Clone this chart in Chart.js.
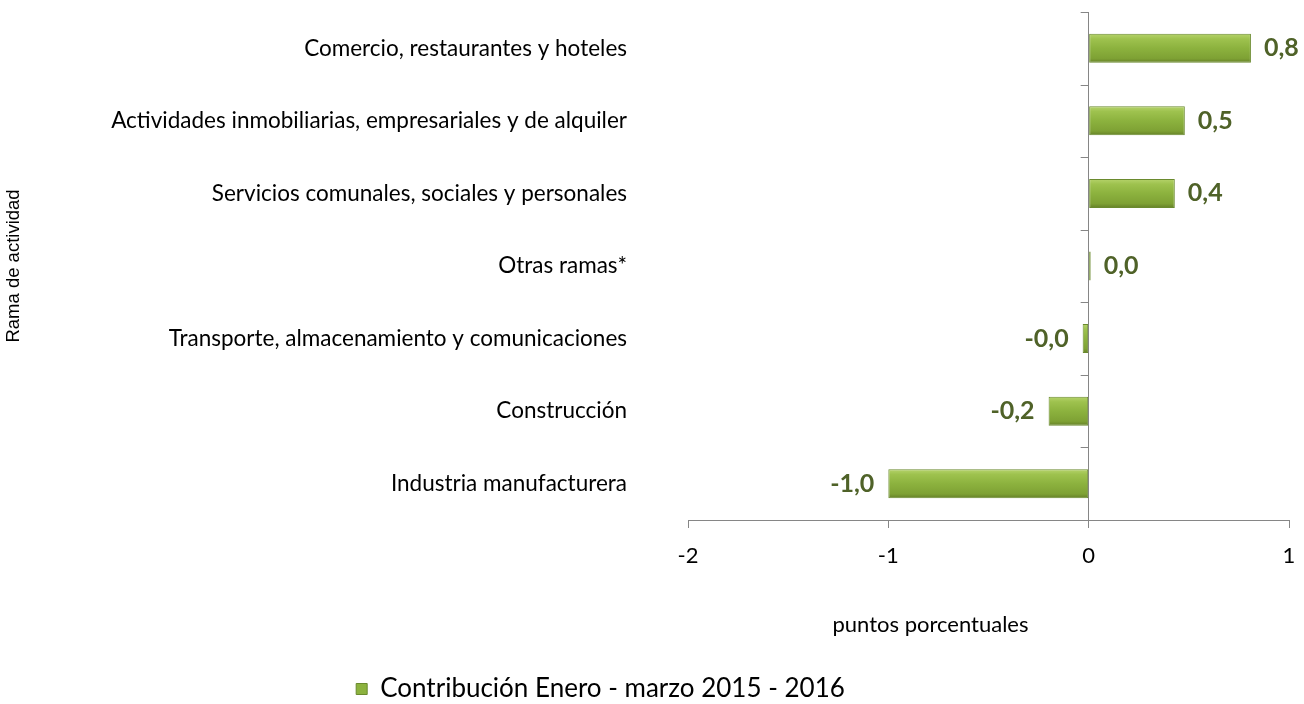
<!DOCTYPE html>
<html>
<head>
<meta charset="utf-8">
<script src="https://cdn.jsdelivr.net/npm/chart.js@4.4.0/dist/chart.umd.min.js"></script>
<style>
    html, body { margin: 0; padding: 0; background: #fff; }
    #wrap { width: 1304px; height: 704px; }
</style>
</head>
<body>
<div id="wrap"><canvas id="chart" width="1304" height="704"></canvas></div>
<script>
// --- DATA ---
const categories = [
    'Comercio, restaurantes y hoteles',
    'Actividades inmobiliarias, empresariales y de alquiler',
    'Servicios comunales, sociales y personales',
    'Otras ramas*',
    'Transporte, almacenamiento y comunicaciones',
    'Construcción',
    'Industria manufacturera'
];
const contribution = [0.81, 0.48, 0.43, 0.01, -0.03, -0.2, -1.0];
const seriesLabel = 'Contribución Enero - marzo 2015 - 2016';
const xTicks = [-2, -1, 0, 1];
const xTitle = 'puntos porcentuales';
const yTitle = 'Rama de actividad';

const AXIS_GREY = '#868686';
const LABEL_GREEN = '#4f6228';
const BAR_PCT = 0.4;

// vertical bevel gradient for each bar
function barFill(ctx) {
    const chart = ctx.chart;
    const y = chart.scales.y;
    if (!y || ctx.dataIndex === undefined) return '#8aae3c';
    const yc = y.getPixelForValue(ctx.dataIndex);
    const h = y.height / categories.length * BAR_PCT;
    const g = chart.ctx.createLinearGradient(0, yc - h / 2, 0, yc + h / 2);
    g.addColorStop(0, '#b6d36c');
    g.addColorStop(0.18, '#9ec24e');
    g.addColorStop(0.5, '#8cb23e');
    g.addColorStop(0.85, '#7ea134');
    g.addColorStop(1, '#647f27');
    return g;
}

// axis line at zero with small ticks between categories
const zeroAxis = {
    id: 'zeroAxis',
    afterDatasetsDraw(chart) {
        const { ctx, scales: { x, y } } = chart;
        const x0 = x.getPixelForValue(0);
        ctx.save();
        ctx.strokeStyle = AXIS_GREY;
        ctx.lineWidth = 1;
        ctx.beginPath();
        for (let i = 0; i <= categories.length; i++) {
            const yy = Math.round(y.top + i * y.height / categories.length) + 0.5;
            ctx.moveTo(x0 - 8, yy);
            ctx.lineTo(x0, yy);
        }
        ctx.stroke();
        ctx.restore();
    }
};

// value labels next to the bars
const valueLabels = {
    id: 'valueLabels',
    afterDatasetsDraw(chart) {
        const { ctx } = chart;
        const meta = chart.getDatasetMeta(0);
        ctx.save();
        ctx.font = 'bold 25px Lato';
        ctx.fillStyle = LABEL_GREEN;
        ctx.textBaseline = 'middle';
        meta.data.forEach((bar, i) => {
            const v = contribution[i];
            const txt = v.toFixed(1).replace('.', ',');
            if (v >= 0) {
                ctx.textAlign = 'left';
                ctx.fillText(txt, bar.x + 13, bar.y);
            } else {
                ctx.textAlign = 'right';
                ctx.fillText(txt, bar.x - 14, bar.y);
            }
        });
        ctx.restore();
    }
};

// x axis title, sitting a bit left of the plot centre like the original
const xAxisTitle = {
    id: 'xAxisTitle',
    afterDraw(chart) {
        const { ctx, scales: { x } } = chart;
        ctx.save();
        ctx.font = '22px Lato';
        ctx.fillStyle = '#000';
        ctx.textAlign = 'center';
        ctx.textBaseline = 'middle';
        ctx.fillText(xTitle, (x.left + x.right) / 2 - 58, x.bottom - 49);
        ctx.restore();
    }
};

// move the legend a little to the left, as in the original
const legendShift = {
    id: 'legendShift',
    afterLayout(chart) {
        chart.legend.right -= 88;
    }
};

new Chart(document.getElementById('chart'), {
    type: 'bar',
    data: {
        labels: categories,
        datasets: [{
            label: seriesLabel,
            data: contribution,
            backgroundColor: barFill,
            borderColor: '#6a8a2e',
            borderWidth: 1,
            borderSkipped: false,
            barPercentage: BAR_PCT,
            categoryPercentage: 1
        }]
    },
    options: {
        indexAxis: 'y',
        responsive: false,
        animation: false,
        layout: { padding: { top: 12, right: 15, bottom: 0, left: 0 } },
        scales: {
            x: {
                min: xTicks[0],
                max: xTicks[xTicks.length - 1],
                afterBuildTicks: s => { s.ticks = xTicks.map(v => ({ value: v })); },
                afterFit: s => { s.height = 154; s.paddingLeft = 0; s.paddingRight = 0; },
                grid: {
                    color: c => (c.tick && c.tick.value === 0 ? AXIS_GREY : 'rgba(0,0,0,0)'),
                    tickColor: AXIS_GREY,
                    tickLength: 8
                },
                border: { display: true, color: AXIS_GREY },
                ticks: {
                    padding: 15,
                    color: '#000',
                    font: { family: 'Lato', size: 22 },
                    callback: v => String(v)
                }
            },
            y: {
                afterFit: s => { s.width = 688; s.paddingTop = 0; s.paddingBottom = 0; },
                grid: { display: false, drawTicks: false },
                border: { display: false },
                ticks: {
                    padding: 61,
                    color: '#000',
                    font: { family: 'Lato', size: 22.5 }
                },
                title: {
                    display: true,
                    text: yTitle,
                    color: '#000',
                    font: { family: 'Liberation Sans', size: 18.5 },
                    padding: { top: 3, bottom: 0 }
                }
            }
        },
        plugins: {
            legend: {
                position: 'bottom',
                maxHeight: 30,
                labels: {
                    boxWidth: 11,
                    boxHeight: 11,
                    padding: 2,
                    color: '#000',
                    font: { family: 'Lato', size: 26 },
                    generateLabels: () => [{
                        text: seriesLabel,
                        fillStyle: '#8cb23e',
                        strokeStyle: '#6a8a2e',
                        lineWidth: 1,
                        hidden: false,
                        datasetIndex: 0
                    }]
                }
            },
            tooltip: { enabled: false }
        }
    },
    plugins: [zeroAxis, valueLabels, xAxisTitle, legendShift]
});
</script>
</body>
</html>
